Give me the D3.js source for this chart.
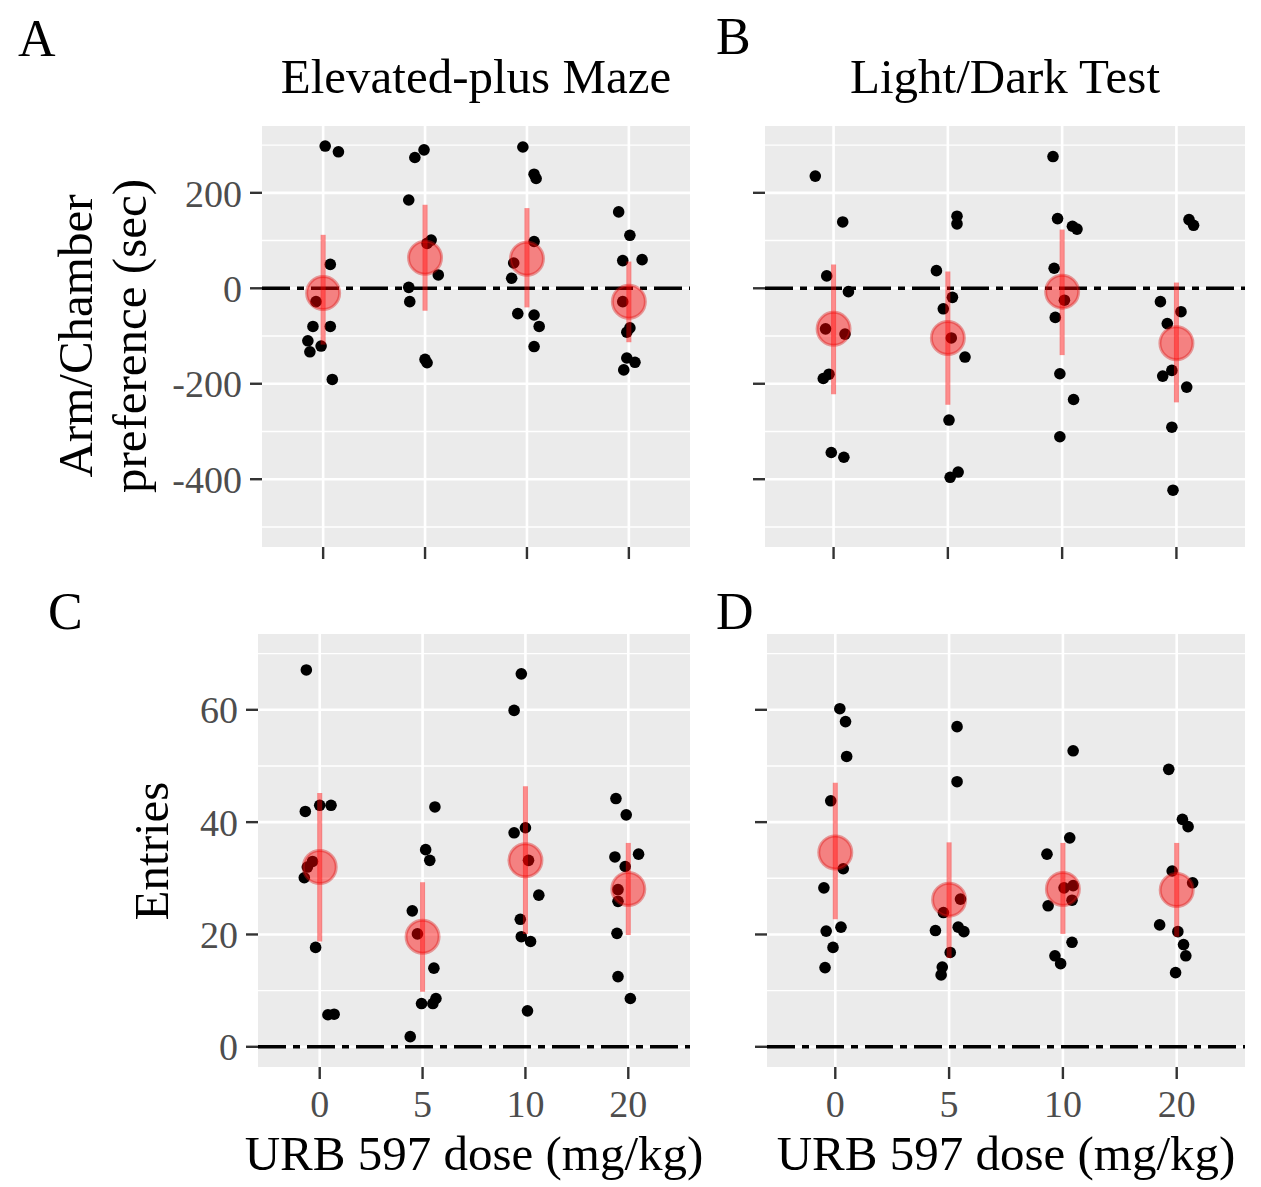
<!DOCTYPE html>
<html><head><meta charset="utf-8">
<script src="https://cdn.jsdelivr.net/npm/d3@7"></script>
<style>html,body{margin:0;padding:0;background:#fff;}svg{display:block;}</style>
</head><body>
<svg id="chart" width="1261" height="1187"></svg>
<script>
// ---------------- DATA ----------------
const doses = ["0", "5", "10", "20"];
const prefTicks = [-400, -200, 0, 200];
const prefMinor = [-500, -300, -100, 100, 300];
const entryTicks = [0, 20, 40, 60];
const entryMinor = [10, 30, 50, 70];

const titles = ["Elevated-plus Maze", "Light/Dark Test"];
const panelLetters = ["A", "B", "C", "D"];
const xTitle = "URB 597 dose (mg/kg)";
const prefTitle = ["Arm/Chamber", "preference (sec)"];
const entryTitle = "Entries";

// Panel A: Elevated-plus maze preference (sec)
const epmPrefValues = [
  [298, 286, 50, -28, -80, -80, -110, -133, -121, -191],
  [274, 290, 185, 101, 94, 28, 2, -28, -149, -156],
  [296, 239, 230, 98, 53, 21, -53, -56, -80, -122],
  [160, 111, 58, 60, -28, -83, -92, -146, -155, -171]
];
const epmPrefJitter = [
  [0.02, 0.15, 0.07, -0.07, -0.10, 0.07, -0.15, -0.13, -0.02, 0.09],
  [-0.10, -0.01, -0.16, 0.06, 0.02, 0.13, -0.16, -0.15, 0.00, 0.02],
  [-0.04, 0.07, 0.09, 0.07, -0.13, -0.15, -0.09, 0.07, 0.12, 0.07],
  [-0.10, 0.01, -0.06, 0.13, -0.06, 0.01, -0.02, -0.02, 0.06, -0.05]
];
const epmPrefMean = [-10, 64, 62, -28];
const epmPrefLow = [-118, -47, -40, -113];
const epmPrefHigh = [112, 175, 168, 56];

// Panel B: Light/Dark preference (sec)
const ldPrefValues = [
  [235, 139, 26, -7, -85, -96, -180, -189, -344, -354],
  [151, 135, 37, -19, -43, -104, -144, -276, -385, -396],
  [276, 146, 130, 124, 42, -25, -61, -179, -233, -311],
  [144, 132, -28, -49, -74, -172, -184, -207, -291, -423]
];
const ldPrefJitter = [
  [-0.16, 0.08, -0.06, 0.13, -0.07, 0.10, -0.04, -0.09, -0.02, 0.09],
  [0.08, 0.08, -0.10, 0.04, -0.04, 0.03, 0.15, 0.01, 0.09, 0.02],
  [-0.08, -0.04, 0.09, 0.13, -0.07, 0.02, -0.06, -0.02, 0.10, -0.02],
  [0.11, 0.15, -0.14, 0.04, -0.08, -0.04, -0.12, 0.09, -0.04, -0.03]
];
const ldPrefMean = [-85, -104, -7, -115];
const ldPrefLow = [-222, -244, -140, -239];
const ldPrefHigh = [50, 35, 123, 12];

// Panel C: Elevated-plus maze entries
const epmEntryValues = [
  [67.1, 41.9, 43.0, 43.0, 33.0, 32.0, 30.1, 17.7, 5.7, 5.8],
  [42.7, 35.1, 33.2, 24.2, 20.1, 14.0, 7.7, 7.7, 8.6, 1.8],
  [66.4, 59.9, 39.0, 38.1, 33.2, 27.0, 22.7, 19.6, 18.75, 6.4],
  [44.2, 41.3, 34.3, 33.8, 32.1, 28.0, 25.9, 20.2, 12.5, 8.6]
];
const epmEntryJitter = [
  [-0.13, -0.14, 0.00, 0.11, -0.07, -0.12, -0.15, -0.04, 0.08, 0.14],
  [0.12, 0.03, 0.07, -0.10, -0.05, 0.11, -0.01, 0.10, 0.13, -0.12],
  [-0.04, -0.11, 0.00, -0.11, 0.03, 0.13, -0.05, -0.04, 0.05, 0.02],
  [-0.12, -0.02, 0.10, -0.13, -0.03, -0.10, -0.10, -0.11, -0.10, 0.02]
];
const epmEntryMean = [32.0, 19.6, 33.2, 28.1];
const epmEntryLow = [18.75, 9.8, 20.1, 19.9];
const epmEntryHigh = [45.2, 29.3, 46.4, 36.3];

// Panel D: Light/Dark entries
const ldEntryValues = [
  [60.2, 57.9, 51.7, 43.8, 31.7, 28.3, 21.3, 20.6, 17.7, 14.1],
  [57.0, 47.2, 26.3, 23.9, 20.7, 21.3, 20.5, 16.8, 14.2, 12.8],
  [52.7, 37.2, 34.3, 28.3, 28.7, 26.1, 25.1, 18.6, 16.2, 14.8],
  [49.4, 40.5, 39.2, 31.3, 29.2, 21.7, 20.5, 18.2, 16.2, 13.2]
];
const ldEntryJitter = [
  [0.04, 0.09, 0.10, -0.04, 0.07, -0.10, 0.05, -0.08, -0.02, -0.09],
  [0.07, 0.07, 0.10, -0.05, -0.12, 0.08, 0.13, 0.01, -0.06, -0.07],
  [0.09, 0.06, -0.14, 0.01, 0.09, 0.08, -0.13, 0.08, -0.07, -0.02],
  [-0.07, 0.05, 0.10, -0.04, 0.14, -0.15, 0.01, 0.06, 0.08, -0.01]
];
const ldEntryMean = [34.6, 26.2, 28.1, 27.9];
const ldEntryLow = [22.7, 15.8, 20.1, 19.6];
const ldEntryHigh = [47.0, 36.4, 36.3, 36.3];

const prefDomain = [-542, 340];
const entryDomain = [-3.6, 73.5];

// ---------------- DRAW ----------------
const svg = d3.select("#chart");
svg.append("rect").attr("width", 1261).attr("height", 1187).attr("fill", "#fff");
const FONT = "'Liberation Serif', 'Times New Roman', serif";

const panels = [
  {vals: epmPrefValues, jit: epmPrefJitter, mean: epmPrefMean, lo: epmPrefLow, hi: epmPrefHigh,
   x0: 262, x1: 690, y0: 126, y1: 547, dom: prefDomain, ticks: prefTicks, minor: prefMinor,
   yLabels: true, xLabels: false},
  {vals: ldPrefValues, jit: ldPrefJitter, mean: ldPrefMean, lo: ldPrefLow, hi: ldPrefHigh,
   x0: 765, x1: 1245, y0: 126, y1: 547, dom: prefDomain, ticks: prefTicks, minor: prefMinor,
   yLabels: false, xLabels: false},
  {vals: epmEntryValues, jit: epmEntryJitter, mean: epmEntryMean, lo: epmEntryLow, hi: epmEntryHigh,
   x0: 258, x1: 690, y0: 634, y1: 1067, dom: entryDomain, ticks: entryTicks, minor: entryMinor,
   yLabels: true, xLabels: true},
  {vals: ldEntryValues, jit: ldEntryJitter, mean: ldEntryMean, lo: ldEntryLow, hi: ldEntryHigh,
   x0: 767, x1: 1245, y0: 634, y1: 1067, dom: entryDomain, ticks: entryTicks, minor: entryMinor,
   yLabels: false, xLabels: true}
];

panels.forEach((p, pi) => {
  const x = d3.scalePoint().domain(doses).range([p.x0, p.x1]).padding(0.6);
  const y = d3.scaleLinear().domain(p.dom).range([p.y1, p.y0]);
  const step = x.step();
  const g = svg.append("g");

  g.append("rect").attr("x", p.x0).attr("y", p.y0)
    .attr("width", p.x1 - p.x0).attr("height", p.y1 - p.y0).attr("fill", "#EBEBEB");

  g.selectAll(".ymin").data(p.minor.filter(v => y(v) > p.y0 && y(v) < p.y1)).join("line")
    .attr("x1", p.x0).attr("x2", p.x1).attr("y1", d => y(d)).attr("y2", d => y(d))
    .attr("stroke", "#fff").attr("stroke-width", 1.4);
  g.selectAll(".ymaj").data(p.ticks).join("line")
    .attr("x1", p.x0).attr("x2", p.x1).attr("y1", d => y(d)).attr("y2", d => y(d))
    .attr("stroke", "#fff").attr("stroke-width", 2.6);
  g.selectAll(".xmaj").data(doses).join("line")
    .attr("x1", d => x(d)).attr("x2", d => x(d)).attr("y1", p.y0).attr("y2", p.y1)
    .attr("stroke", "#fff").attr("stroke-width", 2.6);

  g.append("line").attr("x1", p.x0).attr("x2", p.x1).attr("y1", y(0)).attr("y2", y(0))
    .attr("stroke", "#000").attr("stroke-width", 3.4).attr("stroke-dasharray", "28,7,7,7");

  const pts = [];
  doses.forEach((d, i) => p.vals[i].forEach((v, k) => pts.push({d, v, j: p.jit[i][k]})));
  g.selectAll(".pt").data(pts).join("circle")
    .attr("cx", d => x(d.d) + d.j * step).attr("cy", d => y(d.v)).attr("r", 5.8)
    .attr("fill", "#000");

  g.selectAll(".mean").data(doses).join("circle")
    .attr("cx", d => x(d)).attr("cy", (d, i) => y(p.mean[i])).attr("r", 16.5)
    .attr("fill", "rgba(255,0,0,0.45)").attr("stroke", "rgba(220,20,20,0.4)").attr("stroke-width", 3);

  g.selectAll(".err").data(doses).join("line")
    .attr("x1", d => x(d)).attr("x2", d => x(d))
    .attr("y1", (d, i) => y(p.lo[i])).attr("y2", (d, i) => y(p.hi[i]))
    .attr("stroke", "rgba(255,0,0,0.45)").attr("stroke-width", 5);

  g.selectAll(".ytk").data(p.ticks).join("line")
    .attr("x1", p.x0 - 12).attr("x2", p.x0).attr("y1", d => y(d)).attr("y2", d => y(d))
    .attr("stroke", "#333").attr("stroke-width", 2.4);
  if (p.yLabels) {
    g.selectAll(".ylab").data(p.ticks).join("text")
      .attr("x", p.x0 - 20).attr("y", d => y(d)).attr("dy", "0.36em")
      .attr("text-anchor", "end").attr("font-family", FONT).attr("font-size", 38)
      .attr("fill", "#4D4D4D").text(d => d);
  }
  g.selectAll(".xtk").data(doses).join("line")
    .attr("x1", d => x(d)).attr("x2", d => x(d)).attr("y1", p.y1).attr("y2", p.y1 + 12)
    .attr("stroke", "#333").attr("stroke-width", 2.4);
  if (p.xLabels) {
    g.selectAll(".xlab").data(doses).join("text")
      .attr("x", d => x(d)).attr("y", 1117)
      .attr("text-anchor", "middle").attr("font-family", FONT).attr("font-size", 38)
      .attr("fill", "#4D4D4D").text(d => d);
    g.append("text").attr("x", (p.x0 + p.x1) / 2).attr("y", 1170)
      .attr("text-anchor", "middle").attr("font-family", FONT).attr("font-size", 49)
      .attr("fill", "#000").text(xTitle);
  }
  if (pi < 2) {
    g.append("text").attr("x", (p.x0 + p.x1) / 2).attr("y", 93)
      .attr("text-anchor", "middle").attr("font-family", FONT).attr("font-size", 49)
      .attr("fill", "#000").text(titles[pi]);
  }
});

const yt = svg.append("text").attr("transform", "translate(92,336) rotate(-90)")
  .attr("text-anchor", "middle").attr("font-family", FONT).attr("font-size", 49).attr("fill", "#000");
yt.append("tspan").attr("x", 0).attr("y", 0).text(prefTitle[0]);
yt.append("tspan").attr("x", 0).attr("y", 54).text(prefTitle[1]);
svg.append("text").attr("transform", "translate(168,851) rotate(-90)")
  .attr("text-anchor", "middle").attr("font-family", FONT).attr("font-size", 49).attr("fill", "#000")
  .text(entryTitle);

const letterPos = [[18, 56], [716, 54], [48, 629], [716, 629]];
svg.selectAll(".letter").data(panelLetters).join("text")
  .attr("x", (d, i) => letterPos[i][0]).attr("y", (d, i) => letterPos[i][1])
  .attr("font-family", FONT).attr("font-size", 52).attr("fill", "#000").text(d => d);
</script>
</body></html>
